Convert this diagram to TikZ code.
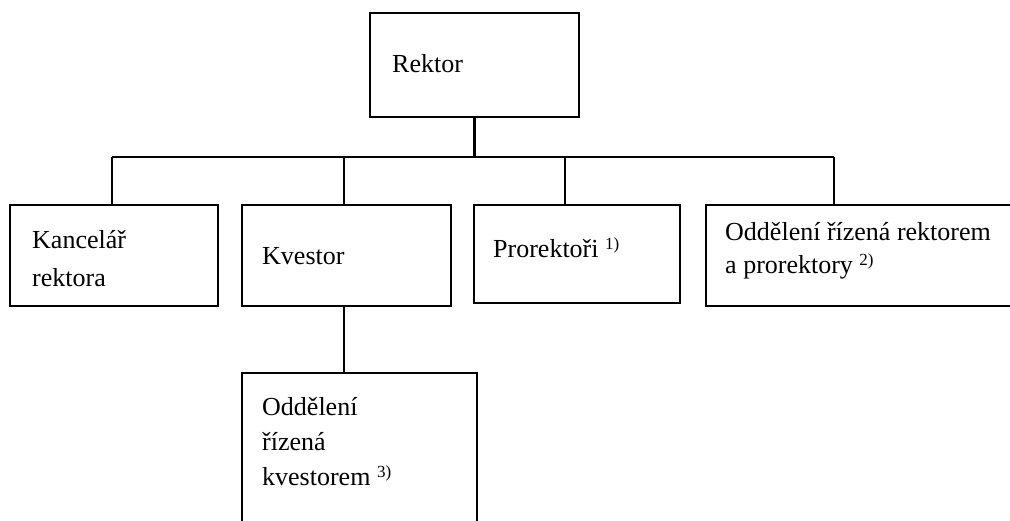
\documentclass[tikz,border=0pt]{standalone}
\usepackage{fontspec}
\setmainfont{Liberation Serif}
\newcommand\supnote[1]{\raisebox{8pt}{\fontsize{17}{17}\selectfont #1}}
\begin{document}
\begin{tikzpicture}[x=1pt,y=-1pt,
  box/.style={draw, line width=2.5pt, rectangle, inner sep=0pt, outer sep=0pt},
  conn/.style={line width=2.5pt},
  lbl/.style={anchor=base west, inner sep=0pt, font=\fontsize{26}{26}\selectfont}]
\useasboundingbox (0,0) rectangle (1010,520);
\clip (0,0) rectangle (1010,520);
% boxes
\node[box, minimum width=209, minimum height=104] (rektor) at (474.5,65) {};
\node[box, minimum width=208, minimum height=101] (kanc) at (114,255.5) {};
\node[box, minimum width=209, minimum height=101] (kvestor) at (346.5,255.5) {};
\node[box, minimum width=206, minimum height=98] (prorek) at (577,254) {};
\node[box, minimum width=314, minimum height=101] (oddr) at (863,255.5) {};
\node[box, minimum width=235, minimum height=167] (oddk) at (359.5,456.5) {};
% connector points
\coordinate (bus) at (474.5,157);
\coordinate (busL) at (112,157);
\coordinate (busR) at (834,157);
\coordinate (busK) at (344,157);
\coordinate (busP) at (565,157);
\coordinate (kx) at (344,0);
% connectors
\draw[conn] (rektor.south) -- (bus);
\draw[conn] (busL) -- (busR);
\draw[conn] (busL) -- (busL |- kanc.north);
\draw[conn] (busK) -- (busK |- kvestor.north);
\draw[conn] (busP) -- (busP |- prorek.north);
\draw[conn] (busR) -- (busR |- oddr.north);
\draw[conn] (kvestor.south -| kx) -- (oddk.north -| kx);
% texts
\node[lbl] (t1) at (392,72) {Rektor};
\node[lbl] (t2) at (32,248) {Kancelář};
\node[lbl] (t3) at (32,286) {rektora};
\node[lbl] (t4) at (262,264) {Kvestor};
\node[lbl] (t5) at (493,257) {Prorektoři \supnote{1)}};
\node[lbl] (t6) at (725,240) {Oddělení řízená rektorem};
\node[lbl] (t7) at (725,273) {a prorektory \supnote{2)}};
\node[lbl] (t8) at (262,415) {Oddělení};
\node[lbl] (t9) at (262,450) {řízená};
\node[lbl] (t10) at (262,485) {kvestorem \supnote{3)}};
\end{tikzpicture}
\end{document}
